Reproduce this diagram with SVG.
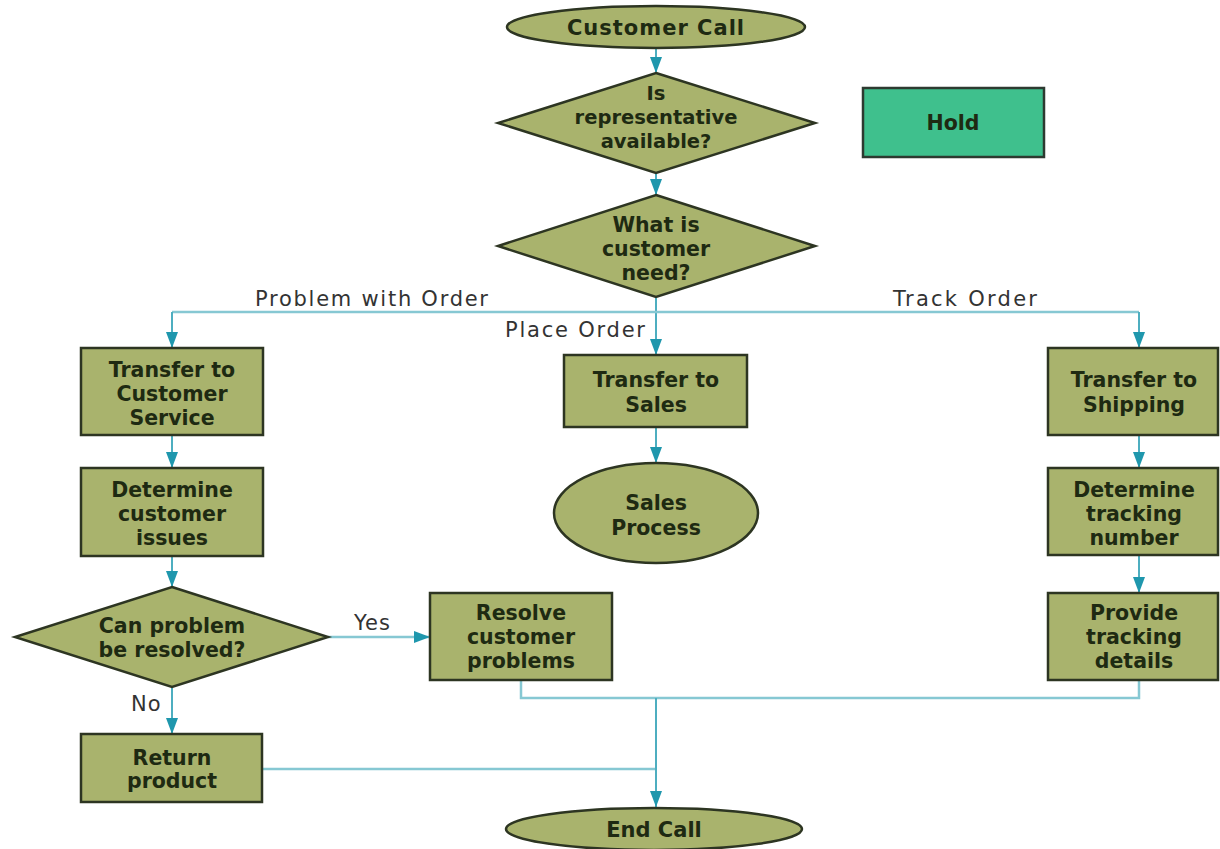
<svg xmlns="http://www.w3.org/2000/svg" width="1220" height="849" viewBox="0 0 1220 849">
<style>
.n{fill:#a9b36d;stroke:#2d3522;stroke-width:2.5}
.h{fill:#3fc08d;stroke:#2d3a30;stroke-width:2.5}
.t{font-family:"DejaVu Sans",sans-serif;font-weight:bold;font-size:20.5px;fill:#1e2a12;text-anchor:middle}
.lb{font-family:"DejaVu Sans",sans-serif;font-size:21px;fill:#333}
.c{fill:none;stroke:#4eaec0;stroke-width:2}
.cl{fill:none;stroke:#86c8d3;stroke-width:2.5}
</style>
<defs>
<marker id="ah" markerUnits="userSpaceOnUse" markerWidth="16" markerHeight="12" viewBox="0 0 16 12" refX="16" refY="6" orient="auto">
<path d="M0,0 L16,6 L0,12 Z" fill="#1f97ad"/>
</marker>
</defs>
<rect width="1220" height="849" fill="#fff"/>
<g id="connectors">
<path class="c" d="M656,48 V73" marker-end="url(#ah)"/>
<path class="c" d="M656,173 V195" marker-end="url(#ah)"/>
<path class="c" d="M656,297 V355" marker-end="url(#ah)"/>
<path class="cl" d="M172,312 H1139"/>
<path class="c" d="M172,312 V348" marker-end="url(#ah)"/>
<path class="c" d="M1139,312 V348" marker-end="url(#ah)"/>
<path class="c" d="M172,435 V468" marker-end="url(#ah)"/>
<path class="c" d="M172,556 V587" marker-end="url(#ah)"/>
<path class="c" d="M172,687 V734" marker-end="url(#ah)"/>
<path class="c" d="M656,427 V463" marker-end="url(#ah)"/>
<path class="c" d="M1139,435 V468" marker-end="url(#ah)"/>
<path class="c" d="M1139,555 V593" marker-end="url(#ah)"/>
<path class="cl" d="M328,637 H430" marker-end="url(#ah)"/>
<path class="cl" d="M521,680 V698 H1139 V680"/>
<path class="cl" d="M262,769 H656"/>
<path class="c" d="M656,698 V807" marker-end="url(#ah)"/>
<text class="lb" x="255" y="306" textLength="233" lengthAdjust="spacing">Problem with Order</text>
<text class="lb" x="893" y="306" textLength="144" lengthAdjust="spacing">Track Order</text>
<text class="lb" x="505" y="337" textLength="140" lengthAdjust="spacing">Place Order</text>
<text class="lb" x="354" y="630" style="letter-spacing:1px">Yes</text>
<text class="lb" x="131" y="711" style="letter-spacing:1px">No</text>
</g>
<g id="customer-call">
<ellipse class="n" cx="656" cy="27" rx="149" ry="21"/>
<text class="t" x="656" y="35" style="font-size:21px;letter-spacing:1px">Customer Call</text>
</g>
<g id="rep-available">
<polygon class="n" points="656,73 815,123 656,173 498,123"/>
<text class="t" x="656" y="100" style="font-size:19.5px">Is</text>
<text class="t" x="656" y="124" style="font-size:19.5px">representative</text>
<text class="t" x="656" y="148" style="font-size:19.5px">available?</text>
</g>
<g id="hold">
<rect class="h" x="863" y="88" width="181" height="69"/>
<text class="t" x="953" y="130">Hold</text>
</g>
<g id="customer-need">
<polygon class="n" points="656,195 815,246 656,297 498,246"/>
<text class="t" x="656" y="232">What is</text>
<text class="t" x="656" y="256">customer</text>
<text class="t" x="656" y="280">need?</text>
</g>
<g id="transfer-cs">
<rect class="n" x="81" y="348" width="182" height="87"/>
<text class="t" x="172" y="377">Transfer to</text>
<text class="t" x="172" y="401">Customer</text>
<text class="t" x="172" y="425">Service</text>
</g>
<g id="transfer-sales">
<rect class="n" x="564" y="355" width="183" height="72"/>
<text class="t" x="656" y="387">Transfer to</text>
<text class="t" x="656" y="412">Sales</text>
</g>
<g id="transfer-shipping">
<rect class="n" x="1048" y="348" width="170" height="87"/>
<text class="t" x="1134" y="387">Transfer to</text>
<text class="t" x="1134" y="412">Shipping</text>
</g>
<g id="determine-issues">
<rect class="n" x="81" y="468" width="182" height="88"/>
<text class="t" x="172" y="497">Determine</text>
<text class="t" x="172" y="521">customer</text>
<text class="t" x="172" y="545">issues</text>
</g>
<g id="sales-process">
<ellipse class="n" cx="656" cy="513" rx="102" ry="50"/>
<text class="t" x="656" y="510">Sales</text>
<text class="t" x="656" y="535">Process</text>
</g>
<g id="determine-tracking">
<rect class="n" x="1048" y="468" width="170" height="87"/>
<text class="t" x="1134" y="497">Determine</text>
<text class="t" x="1134" y="521">tracking</text>
<text class="t" x="1134" y="545">number</text>
</g>
<g id="can-resolve">
<polygon class="n" points="172,587 328,637 172,687 15,637"/>
<text class="t" x="172" y="633">Can problem</text>
<text class="t" x="172" y="657">be resolved?</text>
</g>
<g id="resolve">
<rect class="n" x="430" y="593" width="182" height="87"/>
<text class="t" x="521" y="620">Resolve</text>
<text class="t" x="521" y="644">customer</text>
<text class="t" x="521" y="668">problems</text>
</g>
<g id="provide-tracking">
<rect class="n" x="1048" y="593" width="170" height="87"/>
<text class="t" x="1134" y="620">Provide</text>
<text class="t" x="1134" y="644">tracking</text>
<text class="t" x="1134" y="668">details</text>
</g>
<g id="return-product">
<rect class="n" x="81" y="734" width="181" height="68"/>
<text class="t" x="172" y="765">Return</text>
<text class="t" x="172" y="788">product</text>
</g>
<g id="end-call">
<ellipse class="n" cx="654" cy="829" rx="148" ry="21"/>
<text class="t" x="654" y="837" style="font-size:21px">End Call</text>
</g>
</svg>
